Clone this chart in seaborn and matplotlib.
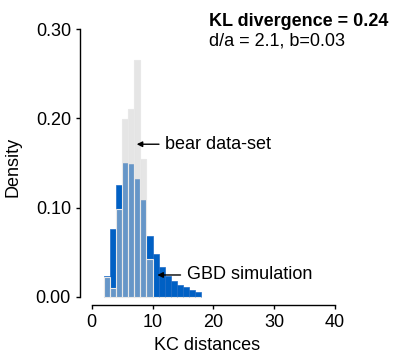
import matplotlib
matplotlib.use("Agg")
import matplotlib.pyplot as plt
import seaborn as sns

# Histogram bins (unit width) and normalised densities
bin_edges = list(range(2, 19))
gbd_left = list(range(2, 18))
gbd_density = [0.024, 0.076, 0.125, 0.150, 0.149, 0.132, 0.109, 0.068,
               0.048, 0.033, 0.0235, 0.018, 0.013, 0.011, 0.008, 0.006]
bear_left = list(range(2, 10))
bear_density = [0.022, 0.010, 0.098, 0.199, 0.210, 0.265, 0.154, 0.043]

x_ticks = [0, 10, 20, 30, 40]
y_ticks = [0.00, 0.10, 0.20, 0.30]
y_tick_labels = ["0.00", "0.10", "0.20", "0.30"]

sns.set_theme(style="ticks")
plt.rcParams["font.family"] = ["Liberation Sans", "DejaVu Sans"]
plt.rcParams["font.size"] = 13
plt.rcParams["text.color"] = "black"
plt.rcParams["axes.labelcolor"] = "black"

W, H = 404, 353
fig = plt.figure(figsize=(W / 100, H / 100), dpi=100)
ax = fig.add_axes([80 / W, 48 / H, 255 / W, 276 / H])

sns.histplot(x=[b + 0.5 for b in gbd_left], weights=gbd_density, bins=bin_edges,
             stat="count", color="#0060c4", alpha=1.0, edgecolor="#1f6cc6",
             linewidth=0.5, ax=ax)
sns.histplot(x=[b + 0.5 for b in bear_left], weights=bear_density, bins=bin_edges,
             stat="count", color="#cccccc", alpha=0.5, edgecolor="#e8e8e8",
             linewidth=0.8, ax=ax)

ax.set_xlim(-1.92, 40)
ax.set_ylim(-0.009, 0.30)
ax.set_xticks(x_ticks)
ax.set_yticks(y_ticks)
ax.set_yticklabels(y_tick_labels)
ax.spines["left"].set_bounds(0, 0.30)
ax.spines["bottom"].set_bounds(0, 40)
for s in ("top", "right"):
    ax.spines[s].set_visible(False)
for s in ("left", "bottom"):
    ax.spines[s].set_color("black")
    ax.spines[s].set_linewidth(1.0)
ax.tick_params(axis="both", length=3, width=1.0, color="black",
               labelsize=13, pad=3.5, labelcolor="black")
ax.set_xlabel("KC distances", fontsize=13, color="black", labelpad=4)
ax.set_ylabel("Density", fontsize=13, color="black", labelpad=10)

arrow = dict(arrowstyle="-|>", color="black", lw=1.0, mutation_scale=8,
             shrinkA=2, shrinkB=0)
ax.annotate("bear data-set", xy=(7.40, 0.171), xytext=(12.06, 0.171),
            ha="left", va="center", fontsize=13, color="black", arrowprops=arrow)
ax.annotate("GBD simulation", xy=(10.79, 0.0246), xytext=(15.6, 0.0246),
            ha="left", va="center", fontsize=13, color="black", arrowprops=arrow)

fig.text(209 / W, 1 - 26 / H, "KL divergence = 0.24", fontsize=13,
         fontweight="bold", color="black", ha="left", va="baseline")
fig.text(209 / W, 1 - 46 / H, "d/a = 2.1, b=0.03", fontsize=13,
         color="black", ha="left", va="baseline")

fig.savefig("out.png", dpi=100)
